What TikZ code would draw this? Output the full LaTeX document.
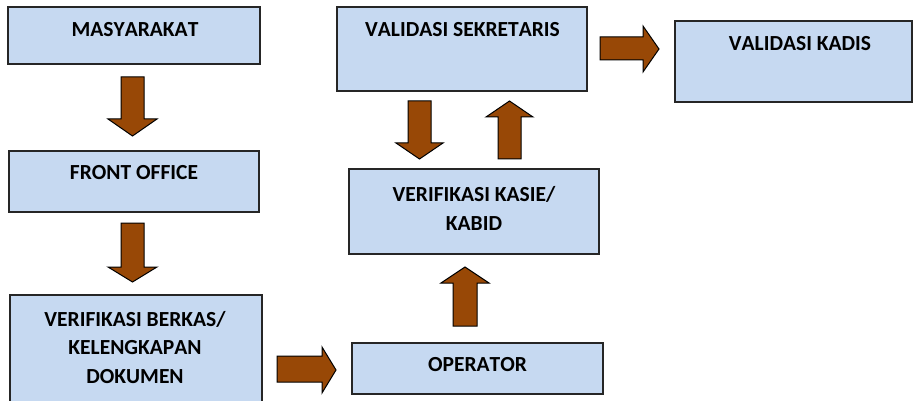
\documentclass[tikz,border=0pt]{standalone}
\usepackage{fontspec}
\setmainfont[Kerning=Off]{Carlito}
\definecolor{boxfill}{HTML}{C6D9F1}
\definecolor{boxline}{HTML}{262626}
\definecolor{arrfill}{HTML}{984806}
\tikzset{
  box/.style={draw=boxline, line width=1.2pt, fill=boxfill, inner sep=0pt, outer sep=0pt},
  lbl/.style={inner sep=0pt, align=center, text=black, font=\bfseries\fontsize{21.5}{28.5}\selectfont},
  blockarrow/.style={draw=black, line width=1pt, fill=arrfill, line join=miter}
}
\begin{document}
\begin{tikzpicture}[x=1pt,y=-1pt]
\useasboundingbox (0,0) rectangle (913,401);
\clip (0,0) rectangle (913,401);
% boxes
\node[box, minimum width=252, minimum height=57] (b1) at (134,35.5) {};
\node[box, minimum width=250, minimum height=61] (b2) at (134,181.5) {};
\node[box, minimum width=252, minimum height=112] (b3) at (136,351) {};
\node[box, minimum width=251, minimum height=51] (b4) at (477.5,368.5) {};
\node[box, minimum width=250, minimum height=85] (b5) at (474,211.5) {};
\node[box, minimum width=250, minimum height=84] (b6) at (462,49) {};
\node[box, minimum width=237, minimum height=81] (b7) at (793.5,61.5) {};
% labels
\node[lbl] (t1) at (135,30) {MASYARAKAT};
\node[lbl] (t2) at (134,173) {FRONT OFFICE};
\node[lbl] (t3) at (135,347.5) {VERIFIKASI BERKAS/\\KELENGKAPAN\\DOKUMEN};
\node[lbl] (t4) at (477.5,365) {OPERATOR};
\node[lbl] (t5) at (474,208.5) {VERIFIKASI KASIE/\\KABID};
\node[lbl] (t6) at (462.5,29.5) {VALIDASI SEKRETARIS};
\node[lbl] (t7) at (800,44) {VALIDASI KADIS};
% block arrows
\draw[blockarrow] (121,77) -- (144,77) -- (144,119) -- (157,119) -- (132.5,136) -- (108,119) -- (121,119) -- cycle;
\draw[blockarrow] (121,223) -- (144,223) -- (144,267) -- (157,267) -- (132.5,282) -- (108,267) -- (121,267) -- cycle;
\draw[blockarrow] (277,356) -- (322,356) -- (322,347) -- (336,370) -- (322,393) -- (322,382) -- (277,382) -- cycle;
\draw[blockarrow] (453,326) -- (477,326) -- (477,283) -- (489,283) -- (465,267) -- (441,283) -- (453,283) -- cycle;
\draw[blockarrow] (408,101) -- (431,101) -- (431,143) -- (443,143) -- (419.5,159) -- (396,143) -- (408,143) -- cycle;
\draw[blockarrow] (498,159) -- (521,159) -- (521,117) -- (533,117) -- (509.5,101) -- (486,117) -- (498,117) -- cycle;
\draw[blockarrow] (600,37) -- (643,37) -- (643,26) -- (659,49) -- (643,72) -- (643,60) -- (600,60) -- cycle;
\end{tikzpicture}
\end{document}
